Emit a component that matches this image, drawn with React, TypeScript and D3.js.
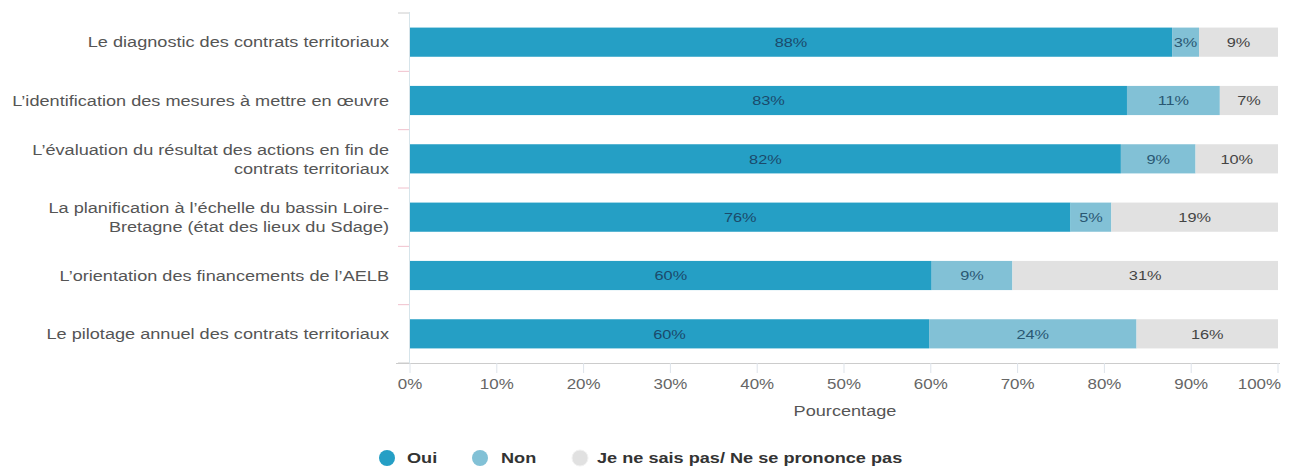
import React from "react";
import * as d3 from "d3";

const categories = [
  ["Le diagnostic des contrats territoriaux"],
  ["L’identification des mesures à mettre en œuvre"],
  ["L’évaluation du résultat des actions en fin de", "contrats territoriaux"],
  ["La planification à l’échelle du bassin Loire-", "Bretagne (état des lieux du Sdage)"],
  ["L’orientation des financements de l’AELB"],
  ["Le pilotage annuel des contrats territoriaux"],
];
const oui = [87.8, 82.6, 81.9, 76.1, 60.1, 59.8];
const non = [3.1, 10.7, 8.6, 4.7, 9.3, 23.9];
const nsp = [9.1, 6.7, 9.5, 19.2, 30.6, 16.3];
const seriesNames = ["Oui", "Non", "Je ne sais pas/ Ne se prononce pas"];
const xTicks = [0, 10, 20, 30, 40, 50, 60, 70, 80, 90, 100];

const colors = ["#259fc5", "#82c1d6", "#e1e1e1"];
const labelColors = ["#1b4a6b", "#2a5873", "#444"];
const SX = 1.21;

function SText(props: { x: number; y: number; anchor?: string; size: number; fill: string; weight?: string; children: React.ReactNode }) {
  return (
    <g transform={`translate(${props.x},${props.y}) scale(${SX},1)`}>
      <text x={0} y={0} dy="0.35em" textAnchor={props.anchor || "start"} fontSize={props.size} fill={props.fill} fontWeight={props.weight || "normal"}>
        {props.children}
      </text>
    </g>
  );
}

export default function App() {
  const W = 1290, H = 468;
  const x = d3.scaleLinear().domain([0, 100]).range([410, 1278]);
  const idx = categories.map((_, i) => i);
  const y = d3.scaleBand<number>().domain(idx).range([13, 363]).paddingInner(0.5).paddingOuter(0.25);
  const band = d3.scaleBand<number>().domain(idx).range([13, 363]);
  const series = [oui, non, nsp];
  const font = "'Liberation Sans', Arial, sans-serif";

  return (
    <svg width={W} height={H} style={{ position: "absolute", left: 0, top: 0, background: "#fff" }} fontFamily={font}>
      {/* y axis */}
      <line x1={409.5} x2={409.5} y1={12} y2={363} stroke="#d6e4ea" />
      {d3.range(7).map((i) => {
        const yy = 13 + i * band.bandwidth();
        return <line key={i} x1={398} x2={409} y1={yy} y2={yy} stroke={i === 0 || i === 6 ? "#ccc" : "#f0c0cc"} />;
      })}
      {/* bars */}
      {idx.map((i) => {
        let acc = 0;
        return (
          <g key={i}>
            {series.map((s, k) => {
              const v = s[i];
              const x0 = x(acc);
              acc += v;
              const x1 = x(acc);
              const yy = y(i)!;
              return (
                <g key={k}>
                  <rect x={x0} y={yy} width={x1 - x0} height={y.bandwidth()} fill={colors[k]} />
                  <SText x={(x0 + x1) / 2} y={yy + y.bandwidth() / 2} anchor="middle" size={13.5} fill={labelColors[k]}>
                    {Math.round(v)}%
                  </SText>
                </g>
              );
            })}
          </g>
        );
      })}
      {/* category labels */}
      {categories.map((lines, i) => {
        const cy = y(i)! + y.bandwidth() / 2;
        const lh = 19;
        const start = cy - ((lines.length - 1) * lh) / 2;
        return (
          <g key={i}>
            {lines.map((l, j) => (
              <SText key={j} x={389} y={start + j * lh} anchor="end" size={15} fill="#555">{l}</SText>
            ))}
          </g>
        );
      })}
      {/* x axis */}
      <line x1={396} x2={1280} y1={363.5} y2={363.5} stroke="#ccc" />
      {xTicks.map((t) => (
        <g key={t}>
          <line x1={x(t)} x2={x(t)} y1={363} y2={373} stroke="#dde3ea" />
          <SText x={t === 100 ? 1281 : x(t)} y={384} anchor={t === 100 ? "end" : "middle"} size={14} fill="#666">
            {t}%
          </SText>
        </g>
      ))}
      <SText x={845} y={411} anchor="middle" size={15} fill="#555">Pourcentage</SText>
      {/* legend */}
      {[
        { cx: 387, tx: 407 },
        { cx: 480, tx: 501 },
        { cx: 580, tx: 597 },
      ].map((p, k) => (
        <g key={k}>
          <circle cx={p.cx} cy={458} r={8} fill={colors[k]} stroke={k === 2 ? "#f2f2f2" : "none"} />
          <SText x={p.tx} y={458} size={15} weight="bold" fill="#333">{seriesNames[k]}</SText>
        </g>
      ))}
    </svg>
  );
}
